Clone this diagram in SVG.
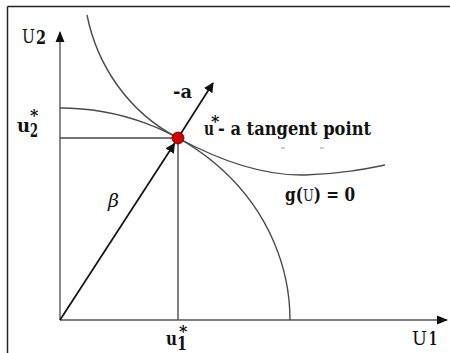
<svg xmlns="http://www.w3.org/2000/svg" width="450" height="353" viewBox="0 0 450 353">
<style>
.frame{stroke:#222;stroke-width:1.5;fill:none}
.ax{stroke:#555;stroke-width:1.4;fill:none}
.cv{stroke:#4a4a4a;stroke-width:1.4;fill:none}
.arr{stroke:#111;stroke-width:1.7;fill:none}
.t{font-family:'DejaVu Serif',serif;font-size:19px;fill:#111}
.b{font-weight:bold}
.s{font-size:16px;font-weight:bold}
</style>
<defs>
<marker id="ah" markerWidth="10" markerHeight="10" refX="9" refY="5" orient="auto" markerUnits="userSpaceOnUse">
<path d="M0,0 L10,5 L0,10 Z" fill="#111"/>
</marker>
<marker id="axh" markerWidth="11" markerHeight="10" refX="10" refY="5" orient="auto" markerUnits="userSpaceOnUse">
<path d="M0,0.5 L11,5 L0,9.5 Z" fill="#111"/>
</marker>
</defs>
<g id="frame">
<path class="frame" d="M7.5,6.5 H450 M7.5,6.5 V353"/>
</g>
<g id="connectors">
<path class="ax" d="M60,320 V32" marker-end="url(#axh)"/>
<path class="ax" d="M60,320 H447" marker-end="url(#axh)"/>
<path class="cv" d="M60,138 H178 V320"/>
<path class="cv" d="M60,108 A230,212 0 0 1 290,320"/>
<path class="cv" d="M87,15 C97,65 128,112 178,138 C215,158 262,176 305,175 C340,174 365,169 385,165"/>
<path class="arr" d="M60,320 L174.5,143.5" marker-end="url(#ah)"/>
<path class="arr" d="M178,138 L213,83" stroke-width="1.5" marker-end="url(#ah)"/>
<path d="M281,148 h4 M320,148 h4" stroke="#999" stroke-width="1"/>
</g>
<g id="tangent-point">
<circle cx="178" cy="138" r="6" fill="#d10000" stroke="#600" stroke-width="0.8"/>
</g>
<g id="labels">
<text class="t" font-size="20"><tspan x="22" y="43" textLength="13" lengthAdjust="spacingAndGlyphs">U</tspan><tspan x="36" y="44" class="b" textLength="10" lengthAdjust="spacingAndGlyphs">2</tspan></text>
<text class="t b"><tspan x="17" y="132" textLength="13" lengthAdjust="spacingAndGlyphs">u</tspan><tspan x="30" y="121" class="s">*</tspan><tspan x="30" y="137" textLength="8" lengthAdjust="spacingAndGlyphs">2</tspan></text>
<text class="t b"><tspan x="166" y="345" textLength="11" lengthAdjust="spacingAndGlyphs">u</tspan><tspan x="179" y="337" class="s">*</tspan><tspan x="177" y="350" textLength="10" lengthAdjust="spacingAndGlyphs">1</tspan></text>
<text class="t"><tspan x="412" y="345" textLength="15" lengthAdjust="spacingAndGlyphs">U</tspan><tspan x="429" y="345" class="b" textLength="8" lengthAdjust="spacingAndGlyphs">1</tspan></text>
<text class="t b" x="173" y="98" textLength="19" lengthAdjust="spacingAndGlyphs">-a</text>
<text class="t b"><tspan x="204" y="135" textLength="10" lengthAdjust="spacingAndGlyphs">u</tspan><tspan x="211" y="127" class="s">*</tspan><tspan x="218" y="135" textLength="153" lengthAdjust="spacingAndGlyphs">- a tangent point</tspan></text>
<text class="t b" x="285" y="201" textLength="70" lengthAdjust="spacingAndGlyphs">g(<tspan font-weight="normal" font-size="16" fill="#223">U</tspan>) = 0</text>
<text class="t" x="108" y="207" font-size="20" font-style="italic">β</text>
</g>
</svg>
